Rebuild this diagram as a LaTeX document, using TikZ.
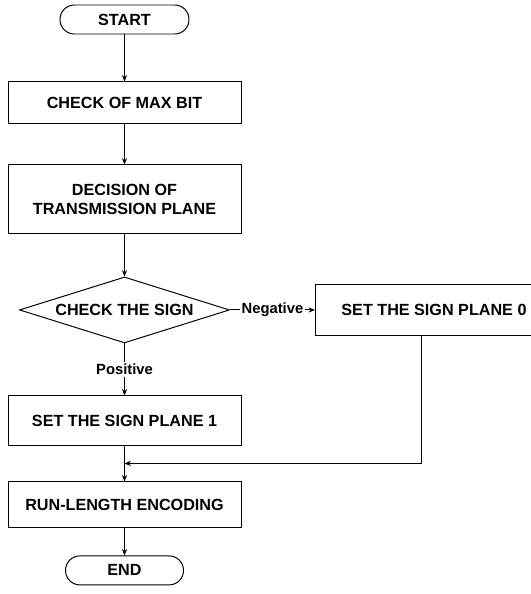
\documentclass[tikz,border=0pt]{standalone}
\usepackage{fontspec}
\setmainfont{Liberation Sans}
\usetikzlibrary{arrows.meta,positioning,shapes.geometric}
\tikzset{
    flowbox/.style={draw, align=center, font=\bfseries\fontsize{11.5}{14}\selectfont,
        minimum width=5.825cm, line width=0.7pt},
    termbox/.style={draw, rounded corners=0.36cm, font=\bfseries\fontsize{11.5}{14}\selectfont,
        minimum height=0.725cm, line width=0.7pt},
    signdiamond/.style={draw, diamond, aspect=3.2, inner sep=0pt, font=\bfseries\fontsize{11.5}{14}\selectfont,
        minimum width=5.25cm, minimum height=1.65cm, line width=0.7pt},
    flowlabel/.style={font=\bfseries\fontsize{10.5}{12}\selectfont, inner sep=1pt},
    flowline/.style={line width=0.7pt},
    flowarrow/.style={-{Stealth[length=1.6mm, width=1.3mm]}, line width=0.7pt}
}

\begin{document}
\begin{tikzpicture}
\useasboundingbox (-3.1125,0.4875) rectangle (10.1375,-14.3625);
\node[termbox, minimum width=3.225cm] (start) at (0,0) {START};
\node[flowbox, below=1.175cm of start, minimum height=1.05cm] (maxbit) {CHECK OF MAX BIT};
\node[flowbox, below=1cm of maxbit, minimum height=1.725cm] (plane) {DECISION OF\\TRANSMISSION PLANE};
\node[signdiamond, below=1.05cm of plane] (sign) {CHECK THE SIGN};
\node[flowbox, below=1.3cm of sign, minimum height=1.25cm] (signone) {SET THE SIGN PLANE 1};
\node[flowbox, right=2.125cm of sign, minimum width=5.925cm, minimum height=1.275cm] (signzero) {SET THE SIGN PLANE 0};
\node[flowbox, below=0.875cm of signone, minimum height=1.15cm] (runlen) {RUN-LENGTH ENCODING};
\node[termbox, below=0.675cm of runlen, minimum width=2.95cm] (end) {END};

% labels on the branches
\path (sign.east) -- node[flowlabel] (neg) {Negative} (signzero.west);
\path (sign.south) -- node[flowlabel] (pos) {Positive} (signone.north);
\coordinate[below=0.425cm of signone] (joinpt);
\coordinate (drop) at ([xshift=2.65cm]signzero.south west);

\draw[flowarrow] (start) -- (maxbit);
\draw[flowarrow] (maxbit) -- (plane);
\draw[flowarrow] (plane) -- (sign);
\draw[flowline] (sign.east) -- (neg.west);
\draw[flowarrow] (neg.east) -- (signzero.west);
\draw[flowline] (sign.south) -- (pos.north);
\draw[flowarrow] (pos.south) -- (signone.north);
\draw[flowline] (signone.south) -- (joinpt);
\draw[flowarrow] (drop) |- (joinpt);
\draw[flowarrow] (joinpt) -- (runlen.north);
\draw[flowarrow] (runlen) -- (end);
\end{tikzpicture}
\end{document}
